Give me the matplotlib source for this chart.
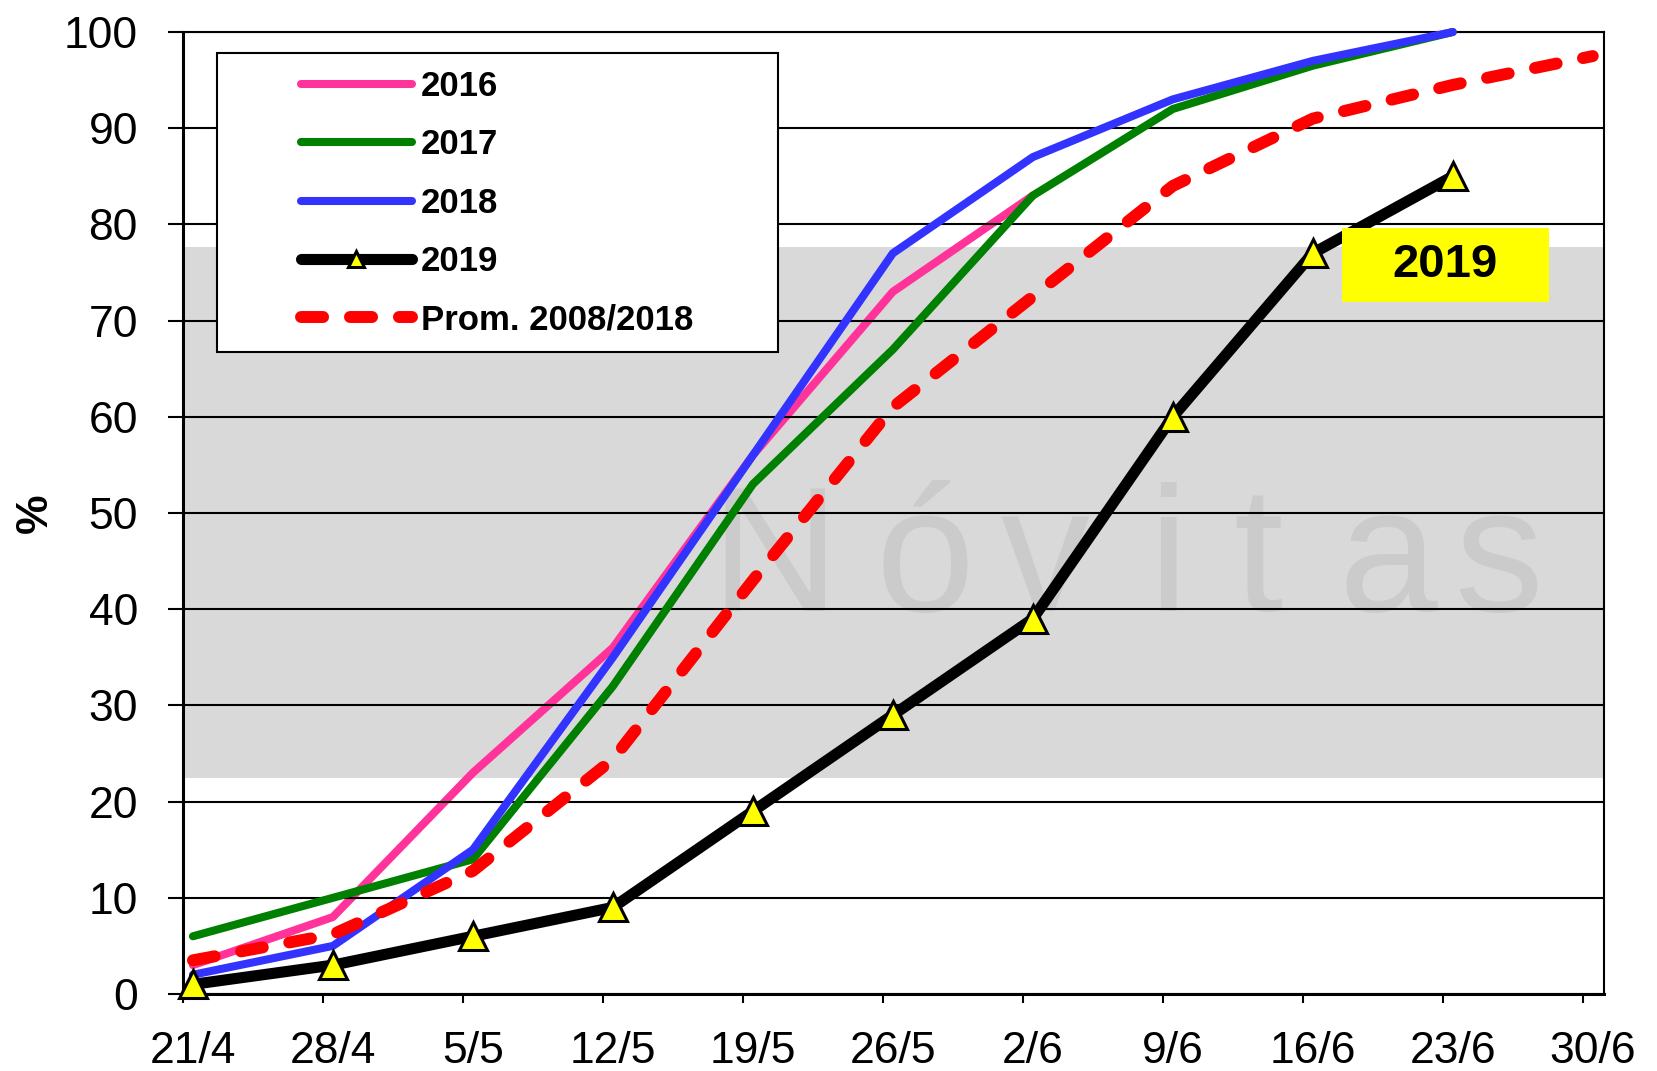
import numpy as np
import matplotlib
matplotlib.use("Agg")
from matplotlib import pyplot as plt
from matplotlib.patches import Rectangle

plt.rcParams['font.family'] = ['Liberation Sans', 'DejaVu Sans']

# fechas (semanas)
fechas = ['21/4', '28/4', '5/5', '12/5', '19/5', '26/5', '2/6', '9/6', '16/6', '23/6', '30/6']

# % de avance por campaña
v2016 = [3, 8, 23, 36, 56, 73, 83]
v2017 = [6, 10, 14, 32, 53, 67, 83, 92, 96.5, 100]
v2018 = [2, 5, 15, 35, 56, 77, 87, 93, 97, 100]
v2019 = [1, 3, 6, 9, 19, 29, 39, 60, 77, 85]
prom = [3.5, 6.2, 12.8, 24.4, 43, 61, 72.5, 84, 91, 94.5, 97.5]

# franja gris de fondo
franja = (22.5, 77.7)

fig = plt.figure(figsize=(16.57, 10.71), dpi=100)
ax = fig.add_axes([0.1104, 0.0719, 0.8576, 0.8982])

ax.axhspan(franja[0], franja[1], color='#D9D9D9', zorder=0, lw=0)

# marca de agua
letras = 'Nóvitas'
pos_letras = [775, 925, 1045, 1168, 1258, 1388, 1499]
for l, px in zip(letras, pos_letras):
    ax.text((px - 183) / 1421, 0.398, l, transform=ax.transAxes, ha='center',
            va='baseline', fontsize=128, color='#CBCBCB', zorder=0.5)

kw = dict(solid_capstyle='round', solid_joinstyle='round', clip_on=False)
ax.plot(np.arange(len(v2016)), v2016, color='#FF3399', lw=5.8, label='2016', zorder=2, **kw)
ax.plot(np.arange(len(v2017)), v2017, color='#008000', lw=5.8, label='2017', zorder=3, **kw)
ax.plot(np.arange(len(v2018)), v2018, color='#3333FF', lw=5.8, label='2018', zorder=4, **kw)
ax.plot(np.arange(len(v2019)), v2019, color='black', lw=8, marker='^', ms=20,
        mfc='#FFFF00', mec='black', mew=2.2, label='2019', zorder=5, **kw)
ax.plot(np.arange(len(prom)), prom, color='#FF0000', lw=8.6, ls=(0, (1.85, 2.25)),
        dash_capstyle='round', label='Prom. 2008/2018', zorder=6, clip_on=False)

ax.set_ylim(0, 100)
ax.set_xlim(-0.0714, 10.08)
ax.set_yticks(np.arange(0, 101, 10))
ax.yaxis.grid(True, color='black', lw=1.5, zorder=1)
ax.set_axisbelow(False)

x = np.arange(len(fechas))
ax.set_xticks(x - 0.0714)
ax.set_xticklabels([])
ax.set_xticks(x, fechas, minor=True)
ax.tick_params(axis='x', which='major', length=6.5, width=1.5, direction='out')
ax.tick_params(axis='x', which='minor', length=0, pad=27, labelsize=32)
ax.tick_params(axis='y', length=10.8, width=1.5, direction='out', pad=21.6, labelsize=32)

for s in ax.spines.values():
    s.set_linewidth(1.5)
    s.set_color('black')
ax.spines['left'].set_linewidth(2.2)
ax.spines['bottom'].set_linewidth(2.2)

ax.set_ylabel('%', fontsize=32, fontweight='bold')
ax.yaxis.set_label_coords((56 - 183) / 1421, (994 - 513) / 962)

# leyenda
caja = Rectangle(((217 - 183) / 1421, (994 - 352) / 962), (778 - 217) / 1421, (352 - 53) / 962,
                 transform=ax.transAxes, facecolor='white', edgecolor='black', lw=1.5, zorder=7)
ax.add_patch(caja)
leg = ax.legend(loc='upper left', bbox_to_anchor=((301 - 183) / 1421, (994 - 70) / 962),
                frameon=False, borderpad=0, borderaxespad=0, handlelength=3.2,
                handletextpad=0.25, labelspacing=0.73, markerscale=0.55,
                prop={'weight': 'bold', 'size': 25})
leg.set_zorder(8)

# etiqueta 2019
etiqueta = Rectangle(((1342 - 183) / 1421, (994 - 302) / 962), (1549 - 1342) / 1421, (302 - 228) / 962,
                     transform=ax.transAxes, facecolor='#FFFF00', edgecolor='none', zorder=9)
ax.add_patch(etiqueta)
ax.text((1445 - 183) / 1421, (994 - 265) / 962, '2019', transform=ax.transAxes,
        ha='center', va='center', fontsize=34, fontweight='bold', zorder=10)

fig.savefig('out.png', dpi=100)
